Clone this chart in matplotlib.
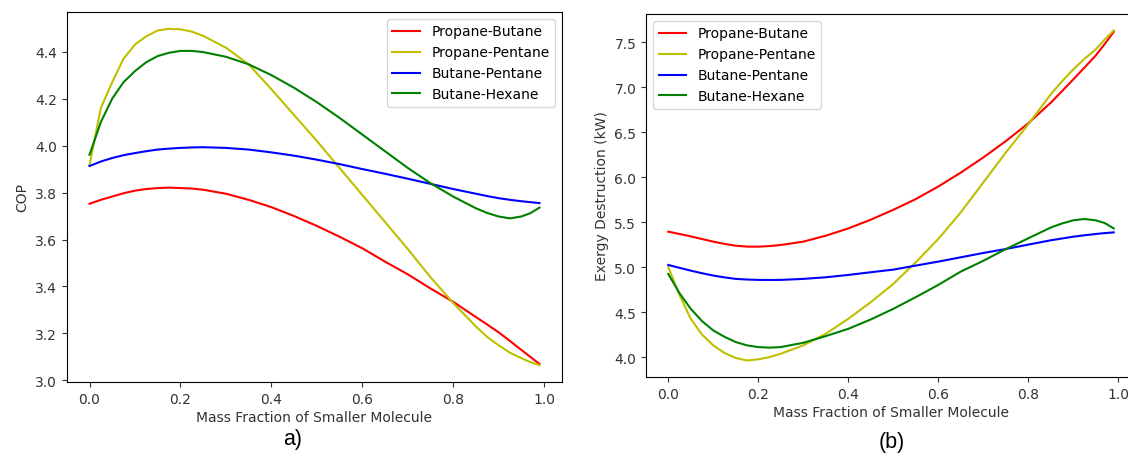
import matplotlib
matplotlib.use("Agg")
import matplotlib.pyplot as plt

# ---- data ----
mass_fraction = [0.0, 0.025, 0.05, 0.075, 0.1, 0.125, 0.15, 0.175, 0.2, 0.225, 0.25, 0.3,
                 0.35, 0.4, 0.45, 0.5, 0.55, 0.6, 0.65, 0.7, 0.75, 0.8, 0.85, 0.875,
                 0.9, 0.925, 0.95, 0.97, 0.99]

series_names = ["Propane-Butane", "Propane-Pentane", "Butane-Pentane", "Butane-Hexane"]
series_colors = ["r", "y", "b", "g"]

cop_propane_butane = [3.752, 3.769, 3.783, 3.797, 3.808, 3.815, 3.819, 3.821, 3.819, 3.817,
                      3.812, 3.795, 3.769, 3.738, 3.700, 3.658, 3.612, 3.563, 3.506, 3.452,
                      3.392, 3.335, 3.270, 3.238, 3.205, 3.168, 3.130, 3.100, 3.070]
cop_propane_pentane = [3.915, 4.160, 4.270, 4.370, 4.430, 4.465, 4.490, 4.497, 4.495, 4.485,
                       4.467, 4.417, 4.346, 4.240, 4.130, 4.020, 3.905, 3.790, 3.675, 3.560,
                       3.440, 3.330, 3.230, 3.185, 3.150, 3.118, 3.095, 3.078, 3.065]
cop_butane_pentane = [3.913, 3.932, 3.947, 3.959, 3.968, 3.976, 3.983, 3.987, 3.990, 3.992,
                      3.993, 3.990, 3.983, 3.971, 3.957, 3.940, 3.921, 3.900, 3.880, 3.859,
                      3.837, 3.815, 3.795, 3.785, 3.776, 3.769, 3.763, 3.759, 3.755]
cop_butane_hexane = [3.961, 4.100, 4.200, 4.270, 4.317, 4.355, 4.381, 4.395, 4.403, 4.403,
                     4.398, 4.378, 4.346, 4.300, 4.246, 4.185, 4.118, 4.047, 3.976, 3.905,
                     3.840, 3.783, 3.733, 3.713, 3.698, 3.690, 3.698, 3.712, 3.736]

ex_propane_butane = [5.394, 5.368, 5.342, 5.312, 5.283, 5.258, 5.238, 5.228, 5.227, 5.234,
                     5.246, 5.283, 5.349, 5.430, 5.527, 5.637, 5.756, 5.896, 6.050, 6.218,
                     6.400, 6.598, 6.827, 6.955, 7.086, 7.218, 7.352, 7.480, 7.615]
ex_propane_pentane = [5.000, 4.690, 4.425, 4.250, 4.130, 4.045, 3.990, 3.962, 3.975, 4.000,
                      4.037, 4.130, 4.259, 4.425, 4.610, 4.813, 5.054, 5.312, 5.608, 5.940,
                      6.273, 6.587, 6.920, 7.065, 7.197, 7.315, 7.420, 7.530, 7.630]
ex_butane_pentane = [5.024, 4.992, 4.961, 4.932, 4.906, 4.886, 4.869, 4.862, 4.858, 4.857,
                     4.858, 4.869, 4.887, 4.913, 4.943, 4.972, 5.017, 5.061, 5.109, 5.157,
                     5.201, 5.250, 5.298, 5.318, 5.338, 5.354, 5.368, 5.378, 5.386]
ex_butane_hexane = [4.924, 4.710, 4.536, 4.400, 4.296, 4.225, 4.167, 4.130, 4.111, 4.105,
                    4.111, 4.159, 4.233, 4.314, 4.418, 4.536, 4.666, 4.802, 4.950, 5.070,
                    5.200, 5.320, 5.440, 5.485, 5.520, 5.535, 5.520, 5.490, 5.430]

cop_series = [cop_propane_butane, cop_propane_pentane, cop_butane_pentane, cop_butane_hexane]
ex_series = [ex_propane_butane, ex_propane_pentane, ex_butane_pentane, ex_butane_hexane]

xlabel = "Mass Fraction of Smaller Molecule"
ylabel_left = "COP"
ylabel_right = "Exergy Destruction (kW)"

# ---- figure ----
W, H = 1128, 456
fig = plt.figure(figsize=(W / 100, H / 100), dpi=100)
plt.rcParams['font.family'] = ['DejaVu Sans']

def ax_rect(l, r, t, b):
    return [l / W, 1 - b / H, (r - l) / W, (b - t) / H]

ax1 = fig.add_axes(ax_rect(67, 562, 13, 383))
ax2 = fig.add_axes(ax_rect(646, 1136, 15, 378))

fs = 10
for ax, data, ylab, loc in [(ax1, cop_series, ylabel_left, "upper right"),
                             (ax2, ex_series, ylabel_right, "upper left")]:
    for name, col, vals in zip(series_names, series_colors, data):
        ax.plot(mass_fraction, vals, color=col, lw=1.5, label=name)
    ax.set_xlabel(xlabel, fontsize=fs, color="#333333", labelpad=3)
    ax.set_ylabel(ylab, fontsize=fs, color="#333333")
    ax.tick_params(labelsize=fs, colors="#333333")
    ax.set_xticks([0.0, 0.2, 0.4, 0.6, 0.8, 1.0])
    ax.legend(loc=loc, fontsize=fs)

ax1.set_yticks([3.0, 3.2, 3.4, 3.6, 3.8, 4.0, 4.2, 4.4])
ax2.set_yticks([4.0, 4.5, 5.0, 5.5, 6.0, 6.5, 7.0, 7.5])

fig.text(293 / W, 1 - 440 / H, "a)", fontsize=15.5, family="Liberation Sans",
         ha="center", va="center")
fig.text(892 / W, 1 - 443 / H, "(b)", fontsize=15.5, family="Liberation Sans",
         ha="center", va="center")

fig.savefig("out.png", dpi=100)
